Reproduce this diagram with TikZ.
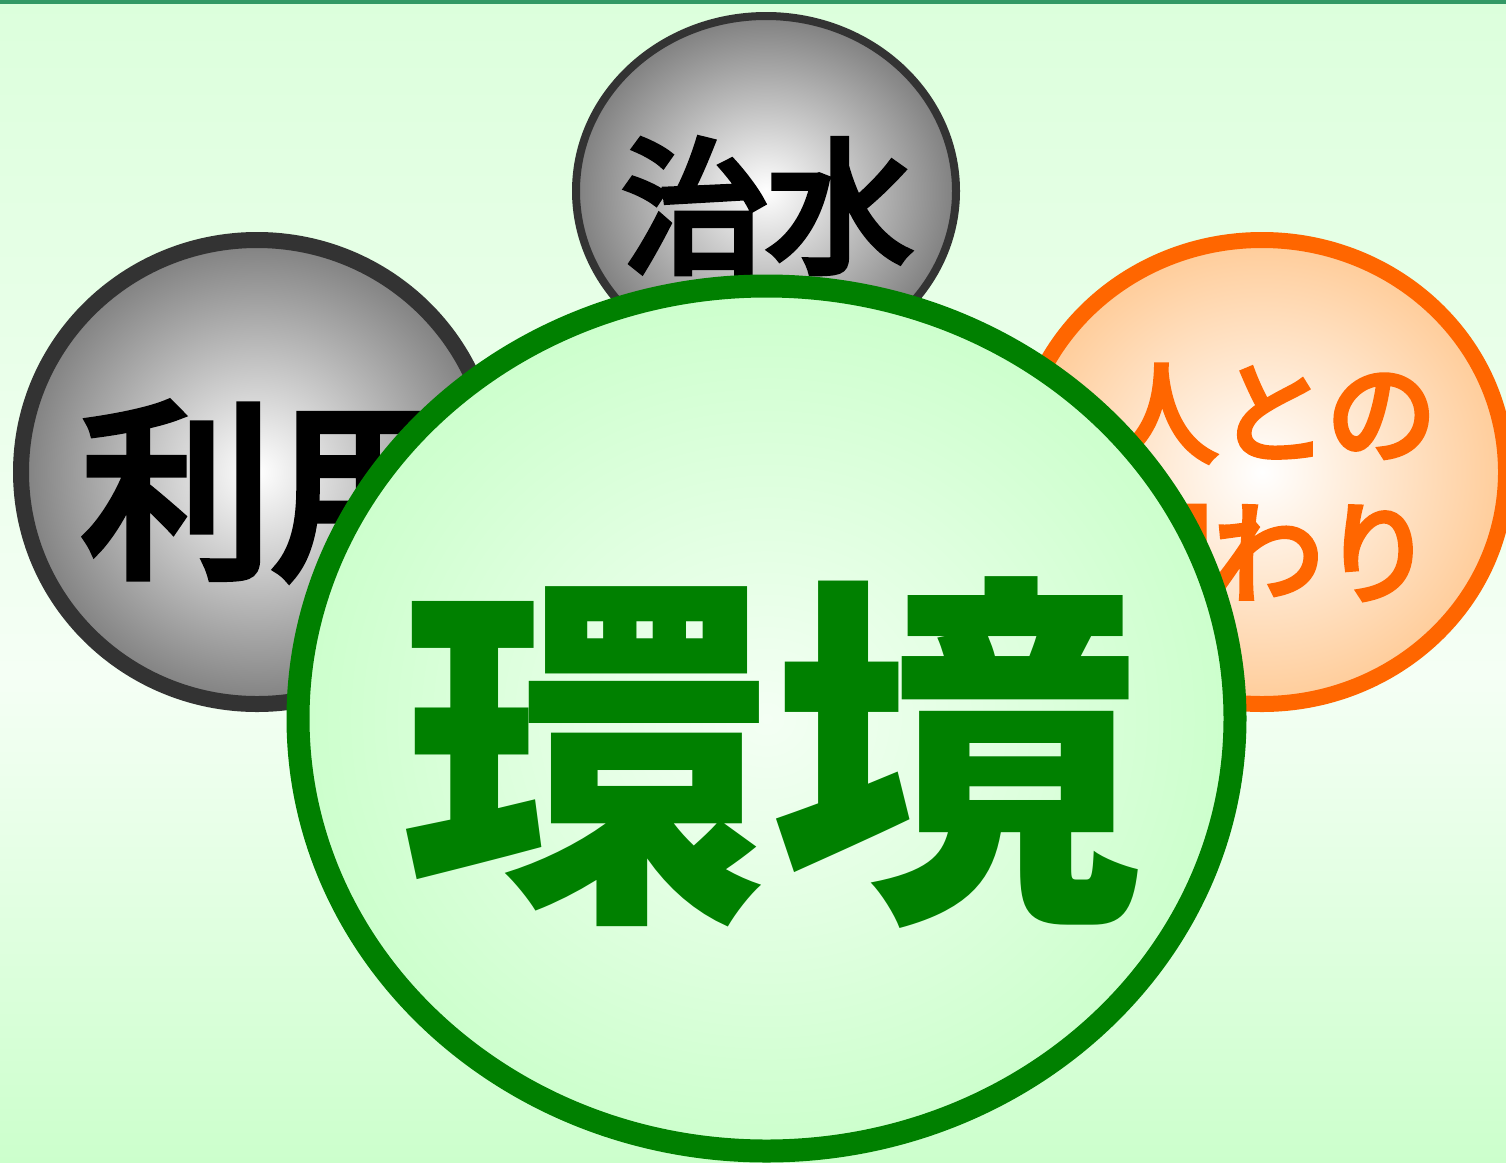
\documentclass[tikz,border=0pt]{standalone}
\usepackage{fontspec}
\usetikzlibrary{shapes.geometric}
\newfontfamily\cjk{Noto Sans CJK JP}
\newfontfamily\cjkmed{Noto Sans CJK JP}[FakeBold=5]
\definecolor{topline}{HTML}{339966}
\definecolor{bgtop}{HTML}{DCFFDC}
\definecolor{bgmid}{HTML}{F5FFF5}
\definecolor{bgbot}{HTML}{CCFFCC}
\definecolor{ballgray}{HTML}{808080}
\definecolor{ballline}{HTML}{333333}
\definecolor{orangeline}{HTML}{FF6600}
\definecolor{orangefill}{HTML}{FFCC99}
\definecolor{greenline}{HTML}{008000}
\definecolor{greenfill}{HTML}{CCFFCC}
\definecolor{greenin}{HTML}{F4FFF4}
\pgfdeclareverticalshading{bgshade}{100bp}{color(0bp)=(bgbot); color(25bp)=(bgbot); color(46bp)=(bgmid); color(75bp)=(bgtop); color(100bp)=(bgtop)}
\tikzset{
  ball/.style={ellipse, inner sep=0pt, outer sep=0pt},
  grayball/.style={ball, draw=ballline, inner color=white, outer color=ballgray},
  orangeball/.style={ball, draw=orangeline, line width=16pt, inner color=white, outer color=orangefill},
  greenball/.style={ball, draw=greenline, line width=23pt, inner color=greenin, outer color=greenfill},
  label/.style={anchor=base, inner sep=0pt},
}
\begin{document}
\begin{tikzpicture}[x=1pt,y=-1pt]
\useasboundingbox (0,0) rectangle (1506,1162);
\fill[shading=bgshade] (0,0) rectangle (1506,1162);
\fill[topline] (0,0) rectangle (1506,3.5);
% flood control
\node[grayball, line width=8pt, minimum width=380pt, minimum height=350pt] (chisui) at (766,191) {};
\node[label, font=\cjkmed\fontsize{145pt}{145pt}\selectfont] (chisuit) at (767,261) {治水};
% use
\node[grayball, line width=16pt, minimum width=472pt, minimum height=464pt] (riyou) at (257,472) {};
\node[label, font=\cjkmed\fontsize{190pt}{190pt}\selectfont] (riyout) at (272,562) {利用};
% relation with people
\node[orangeball, minimum width=488pt, minimum height=464pt] (hito) at (1262,472) {};
\node[label, text=orangeline, font=\cjkmed\fontsize{110pt}{110pt}\selectfont] (hitot1) at (1272,454) {人との};
\node[label, text=orangeline, font=\cjkmed\fontsize{110pt}{110pt}\selectfont] (hitot2) at (1268,594) {関わり};
% environment
\node[greenball, minimum width=937pt, minimum height=865pt] (kankyo) at (766.5,718.5) {};
\node[label, text=greenline, font=\cjk\bfseries\fontsize{370pt}{370pt}\selectfont] (kankyot) at (770,891) {環境};
\end{tikzpicture}
\end{document}
